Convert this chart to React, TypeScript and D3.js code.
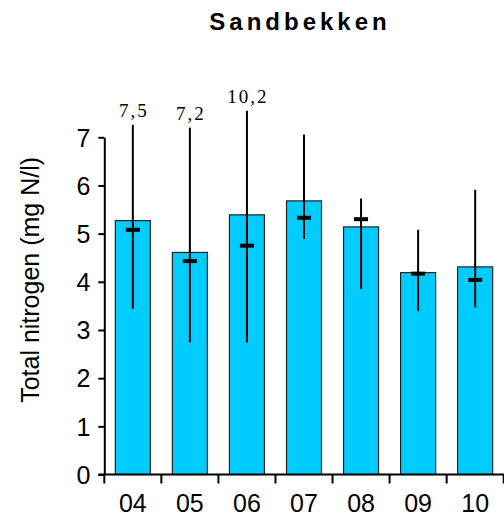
import React, { useRef, useEffect } from "react";
import * as d3 from "d3";

// seasons (year suffix)
const categories = ["04", "05", "06", "07", "08", "09", "10"];
// bar height (mean), median mark, whisker min / max as drawn
const means = [5.27, 4.61, 5.39, 5.68, 5.14, 4.19, 4.31];
const medians = [5.08, 4.43, 4.75, 5.33, 5.3, 4.17, 4.04];
const mins = [3.44, 2.74, 2.74, 4.89, 3.85, 3.39, 3.47];
const maxs = [7.26, 7.2, 7.55, 7.06, 5.73, 5.08, 5.91];
// labels for maxima that run off the scale
const maxLabels = ["7,5", "7,2", "10,2", "", "", "", ""];
const yTicks = [0, 1, 2, 3, 4, 5, 6, 7];

const App: React.FC = () => {
  const ref = useRef<SVGSVGElement | null>(null);

  useEffect(() => {
    if (!ref.current) return;
    const svg = d3.select(ref.current);
    svg.selectAll("*").remove();

    const width = 504;
    const height = 519;
    const left = 104.3;
    const right = 503.7;
    const top = 137.3;
    const bottom = 474.5;

    svg.attr("width", width).attr("height", height);

    const x = d3.scaleBand().domain(categories).range([left, right]).padding(0);
    const y = d3.scaleLinear().domain([0, 7]).range([bottom, top]);

    const data = categories.map((c, i) => ({
      cat: c,
      mean: means[i],
      median: medians[i],
      min: mins[i],
      max: maxs[i],
      label: maxLabels[i],
    }));

    const barW = 35;
    const cx = (c: string) => (x(c) as number) + x.bandwidth() / 2;

    // title
    svg
      .append("text")
      .attr("x", 300)
      .attr("y", 30)
      .attr("text-anchor", "middle")
      .attr("font-family", "Liberation Sans, Arial, sans-serif")
      .attr("font-weight", "bold")
      .attr("font-size", 24)
      .attr("letter-spacing", 4)
      .text("Sandbekken");

    // bars
    svg
      .append("g")
      .selectAll("rect")
      .data(data)
      .enter()
      .append("rect")
      .attr("x", (d) => cx(d.cat) - barW / 2)
      .attr("y", (d) => y(d.mean))
      .attr("width", barW)
      .attr("height", (d) => y(0) - y(d.mean))
      .attr("fill", "#00ccff")
      .attr("stroke", "#222")
      .attr("stroke-width", 1.2);

    // whiskers
    svg
      .append("g")
      .selectAll("line")
      .data(data)
      .enter()
      .append("line")
      .attr("x1", (d) => cx(d.cat))
      .attr("x2", (d) => cx(d.cat))
      .attr("y1", (d) => y(d.min))
      .attr("y2", (d) => y(d.max))
      .attr("stroke", "#000")
      .attr("stroke-width", 2);

    // median marks
    svg
      .append("g")
      .selectAll("rect")
      .data(data)
      .enter()
      .append("rect")
      .attr("x", (d) => cx(d.cat) - 7)
      .attr("y", (d) => y(d.median) - 2)
      .attr("width", 14)
      .attr("height", 4)
      .attr("fill", "#000");

    // off-scale max labels
    svg
      .append("g")
      .selectAll("text")
      .data(data.filter((d) => d.label))
      .enter()
      .append("text")
      .attr("x", (d) => cx(d.cat) + 1)
      .attr("y", (d) => y(d.max) - 8)
      .attr("text-anchor", "middle")
      .attr("font-family", "Liberation Serif, Times New Roman, serif")
      .attr("font-size", 19)
      .attr("letter-spacing", 2)
      .text((d) => d.label);

    // y axis
    const yAxis = svg
      .append("g")
      .attr("transform", `translate(${left},0)`)
      .call(
        d3
          .axisLeft(y)
          .tickValues(yTicks)
          .tickFormat(d3.format("d"))
          .tickSize(6)
          .tickPadding(8)
          .tickSizeOuter(0)
      );
    yAxis.select(".domain").attr("stroke", "#000").attr("stroke-width", 2);
    yAxis.selectAll(".tick line").attr("stroke", "#000").attr("stroke-width", 2);
    yAxis
      .selectAll(".tick text")
      .attr("font-family", "Liberation Sans, Arial, sans-serif")
      .attr("font-size", 25)
      .attr("fill", "#000")
      .attr("dy", "0.35em");

    // x axis, ticks at category boundaries
    const xg = svg.append("g").attr("transform", `translate(0,${bottom})`);
    xg.append("line")
      .attr("x1", left - 6)
      .attr("x2", right + 2)
      .attr("stroke", "#000")
      .attr("stroke-width", 2);
    const bounds = categories.map((c) => x(c) as number).concat([right]);
    xg.selectAll("line.tk")
      .data(bounds)
      .enter()
      .append("line")
      .attr("class", "tk")
      .attr("x1", (d) => d)
      .attr("x2", (d) => d)
      .attr("y1", 0)
      .attr("y2", 9)
      .attr("stroke", "#000")
      .attr("stroke-width", 2);
    xg.selectAll("text")
      .data(categories)
      .enter()
      .append("text")
      .attr("x", (d) => cx(d))
      .attr("y", 37)
      .attr("text-anchor", "middle")
      .attr("font-family", "Liberation Sans, Arial, sans-serif")
      .attr("font-size", 25)
      .text((d) => d);

    // y label
    svg
      .append("text")
      .attr("transform", `translate(39,${(top + bottom) / 2 - 26}) rotate(-90)`)
      .attr("text-anchor", "middle")
      .attr("font-family", "Liberation Sans, Arial, sans-serif")
      .attr("font-size", 25)
      .text("Total nitrogen (mg N/l)");
  }, []);

  return <svg ref={ref} style={{ position: "absolute", left: 0, top: 0 }} />;
};

export default App;
